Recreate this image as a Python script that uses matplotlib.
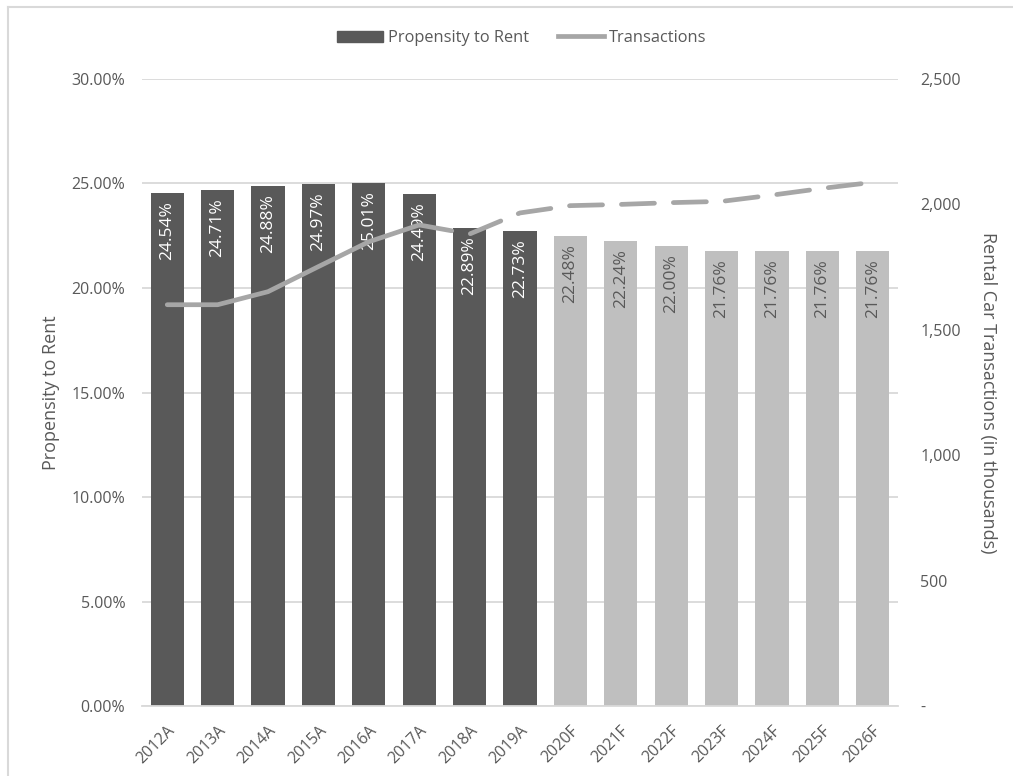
import numpy as np
import matplotlib.pyplot as plt
from matplotlib.lines import Line2D
from matplotlib.patches import Patch
from matplotlib.ticker import FuncFormatter, MultipleLocator

years = ['2012A', '2013A', '2014A', '2015A', '2016A', '2017A', '2018A', '2019A',
         '2020F', '2021F', '2022F', '2023F', '2024F', '2025F', '2026F']
propensity = [24.54, 24.71, 24.88, 24.97, 25.01, 24.49, 22.89, 22.73,
              22.48, 22.24, 22.00, 21.76, 21.76, 21.76, 21.76]
transactions = [1600, 1600, 1652, 1752, 1851, 1918, 1882, 1966,
                1995, 2000, 2007, 2012, 2037, 2064, 2088]
n_actual = 8      # bars up to 2019A are actuals
dash_from = 5     # line dashed from 2017A onward

DARK = '#595959'
LIGHT = '#BFBFBF'
LINE = '#A6A6A6'
TEXT = '#595959'
GRID = '#D9D9D9'

plt.rcParams['font.family'] = ['Open Sans', 'DejaVu Sans']

fig = plt.figure(figsize=(10.13, 7.76), dpi=100)
ax = fig.add_axes([0.1402, 0.0902, 0.7463, 0.8080])
ax2 = ax.twinx()

x = np.arange(len(years))
colors = [DARK if i < n_actual else LIGHT for i in range(len(years))]
bars = ax.bar(x, propensity, width=0.66, color=colors, zorder=2)

for i, (b, v) in enumerate(zip(bars, propensity)):
    ax.annotate(f'{v:.2f}%', (b.get_x() + b.get_width() / 2, v),
                xytext=(0, -6), textcoords='offset points',
                rotation=90, ha='center', va='top', fontsize=12.5,
                color='white' if i < n_actual else TEXT, zorder=3)

ax.set_xlim(-0.5, len(years) - 0.5)
ax.set_ylim(0, 30)
ax.yaxis.set_major_locator(MultipleLocator(5))
ax.yaxis.set_major_formatter(FuncFormatter(lambda v, p: f'{v:.2f}%'))
ax.grid(axis='y', color=GRID, lw=1.3, zorder=0)
ax.set_axisbelow(True)
ax.set_xticks(x)
ax.set_xticklabels(years, rotation=45, ha='right', rotation_mode='anchor')
ax.tick_params(axis='both', length=0, colors=TEXT, labelsize=11.5)
ax.tick_params(axis='y', pad=12)
ax.tick_params(axis='x', pad=12)
for s in ax.spines.values():
    s.set_visible(False)
ax.spines['bottom'].set_visible(True)
ax.spines['bottom'].set_color(GRID)
ax.spines['bottom'].set_linewidth(1.3)
ax.set_ylabel('Propensity to Rent', color=TEXT, fontsize=13, labelpad=8)

ax2.plot(x[:dash_from + 1], transactions[:dash_from + 1], color=LINE, lw=3.4,
         solid_capstyle='round', zorder=4)
ax2.plot(x[dash_from:], transactions[dash_from:], color=LINE, lw=3.4,
         dashes=(7, 4), dash_capstyle='round', zorder=4)
ax2.set_ylim(0, 2500)
ax2.yaxis.set_major_locator(MultipleLocator(500))
ax2.yaxis.set_major_formatter(FuncFormatter(lambda v, p: '-' if v == 0 else f'{v:,.0f}'))
ax2.tick_params(axis='y', length=0, colors=TEXT, labelsize=11.5, pad=16)
for s in ax2.spines.values():
    s.set_visible(False)
ax2.set_ylabel('Rental Car Transactions (in thousands)', color=TEXT, fontsize=13,
               rotation=-90, labelpad=26)

handles = [Patch(color=DARK), Line2D([0], [0], color=LINE, lw=3.4)]
fig.legend(handles, ['Propensity to Rent', 'Transactions'], loc='center',
           bbox_to_anchor=(0.515, 0.951), ncol=2, frameon=False, fontsize=11.8,
           labelcolor=TEXT, handlelength=2.8, handletextpad=0.3, columnspacing=1.8)

# chart frame (left and top edges visible)
fig.add_artist(Line2D([8 / 1013, 8 / 1013], [0, 1 - 7 / 776], color=GRID, lw=1.5))
fig.add_artist(Line2D([8 / 1013, 1], [1 - 7 / 776, 1 - 7 / 776], color=GRID, lw=1.5))

fig.savefig('out.png', dpi=100)
